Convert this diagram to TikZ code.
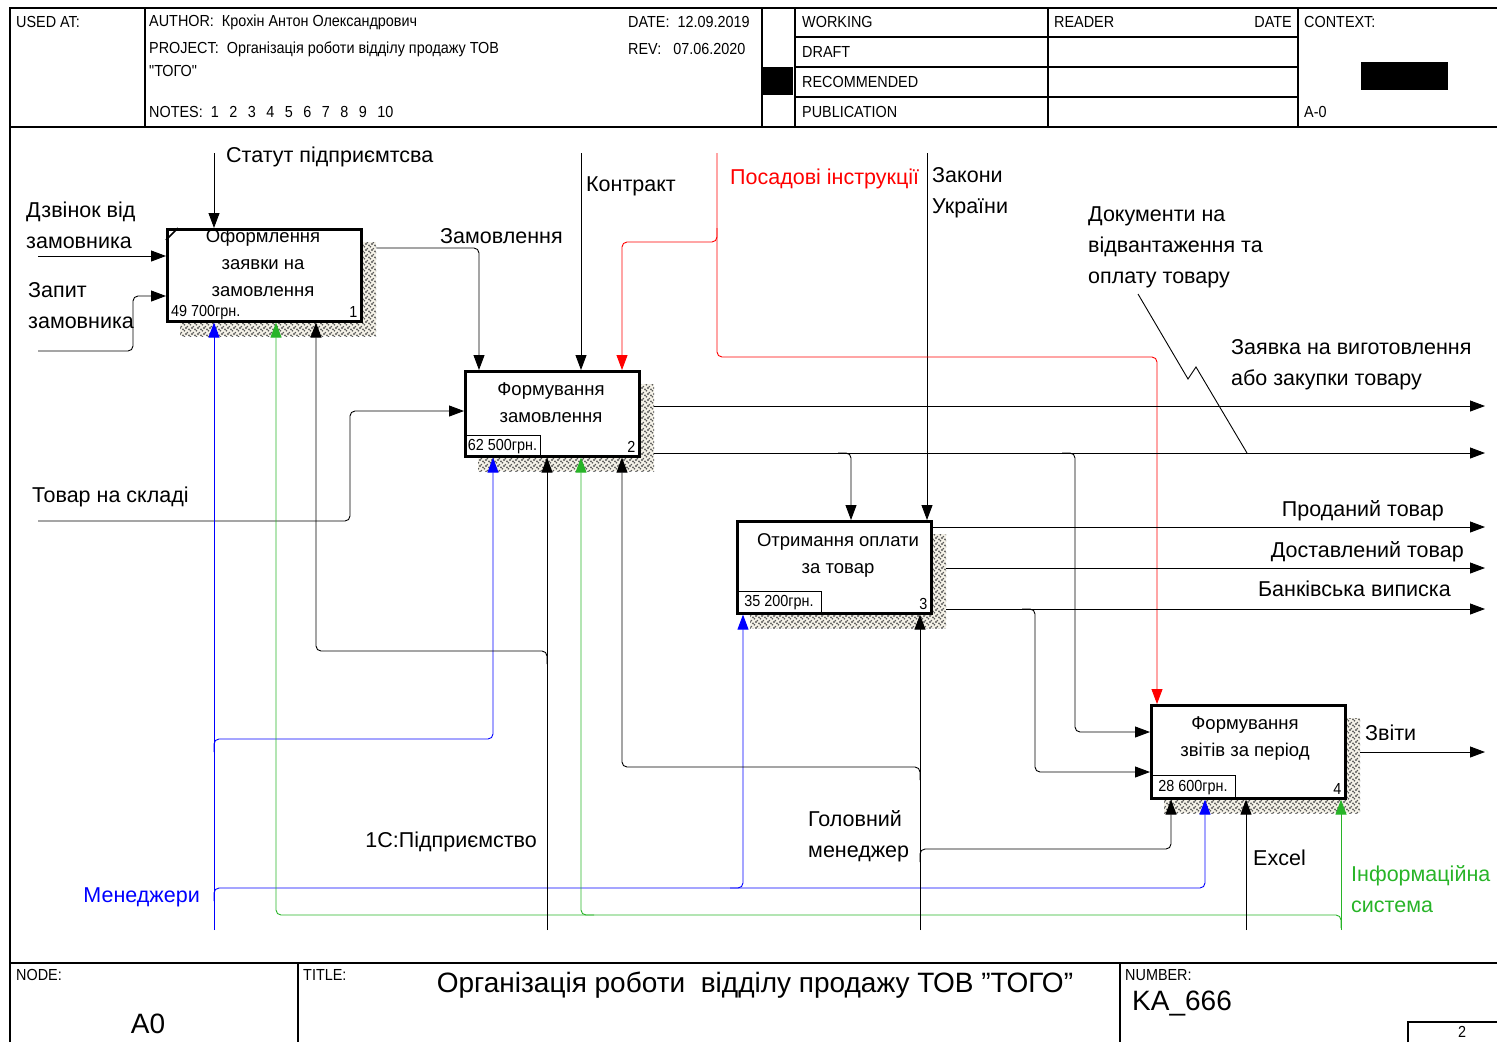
\documentclass[tikz,border=0pt]{standalone}
\usepackage{fontspec}
\setmainfont{Liberation Sans}
\newfontfamily\narrowfont[FakeStretch=0.9]{Liberation Sans}
\usetikzlibrary{arrows.meta, patterns, positioning, calc}
\definecolor{mgrblue}{RGB}{0,0,255}
\definecolor{sysgreen}{RGB}{40,180,40}
\definecolor{instrred}{RGB}{255,0,0}
\definecolor{shadowbg}{RGB}{245,242,232}
\pgfdeclarepatternformonly{shadowdots}{\pgfqpoint{-2pt}{-2pt}}{\pgfqpoint{8pt}{8pt}}{\pgfqpoint{6pt}{6pt}}{%
	\pgfpathcircle{\pgfqpoint{0pt}{0pt}}{1.1pt}%
	\pgfpathcircle{\pgfqpoint{1.4pt}{1.4pt}}{0.9pt}%
	\pgfpathcircle{\pgfqpoint{3pt}{4.6pt}}{1pt}%
	\pgfpathcircle{\pgfqpoint{4.4pt}{3.2pt}}{0.9pt}%
	\pgfusepath{fill}}

\begin{document}
\begin{tikzpicture}[
			x=1pt, y=-1pt,
			box/.style={
				draw,
				line width=2.6pt,
				fill=white,
				anchor=north west,
				inner sep=0pt
			},
			shadowbox/.style={
				preaction={fill=shadowbg},
				pattern=shadowdots,
				pattern color=black!65,
				anchor=north west,
				inner sep=0pt
			},
			flow/.style={
				-{Triangle[length=15pt,width=11pt]},
				line width=0.9pt,
				rounded corners=5pt
			},
			lbl/.style={
				font=\fontsize{21.5}{31}\selectfont,
				inner sep=0pt,
				align=left,
				anchor=west
			},
			boxtxt/.style={
				font=\fontsize{18.5}{27}\selectfont,
				inner sep=0pt,
				align=center
			},
			costtxt/.style={
				font=\narrowfont\fontsize{16}{18}\selectfont,
				inner sep=2pt,
				anchor=south west
			},
			costbox/.style={
				costtxt,
				draw,
				line width=0.8pt
			},
			hdr/.style={
				font=\narrowfont\fontsize{16}{18}\selectfont,
				inner sep=0pt,
				anchor=west
			},
			frame/.style={line width=1.2pt}
			]
			\useasboundingbox (0,0) rectangle (1497,1042);
			
			% Frame and header
			\draw[frame] (10,1042) -- (10,8) -- (1497,8);
			\draw[frame] (10,127) -- (1497,127);
			\draw[frame] (145,8) -- (145,127);
			\draw[frame] (762,8) -- (762,127);
			\draw[frame] (795,8) -- (795,127);
			\draw[frame] (1048,8) -- (1048,127);
			\draw[frame] (1298,8) -- (1298,127);
			\foreach \y in {37,67,97}
				\draw[frame] (795,\y) -- (1298,\y);
			\fill (762,67) rectangle (793,95);
			\fill (1361,62) rectangle (1448,90);
			
			\node[hdr] (hused) at (16,22) {USED AT:};
			\node[hdr] (hauth) at (149,22) {AUTHOR:\ \ Крохін Антон Олександрович};
			\node[hdr] (hproj) at (149,49) {PROJECT:\ \ Організація роботи відділу продажу ТОВ};
			\node[hdr] (hproj2) at (149,71) {"ТОГО"};
			\node[hdr] (hnotes) at (149,112) {NOTES:\ \ 1\hspace{10.5pt}2\hspace{10.5pt}3\hspace{10.5pt}4\hspace{10.5pt}5\hspace{10.5pt}6\hspace{10.5pt}7\hspace{10.5pt}8\hspace{10.5pt}9\hspace{10.5pt}10};
			\node[hdr] (hdate) at (628,22) {DATE:\ \ 12.09.2019};
			\node[hdr] (hrev) at (628,49) {REV:\ \ \ 07.06.2020};
			\node[hdr] (hwork) at (802,22) {WORKING};
			\node[hdr] (hdraft) at (802,52) {DRAFT};
			\node[hdr] (hrec) at (802,82) {RECOMMENDED};
			\node[hdr] (hpub) at (802,112) {PUBLICATION};
			\node[hdr] (hread) at (1054,22) {READER};
			\node[hdr, anchor=east] (hrdate) at (1292,22) {DATE};
			\node[hdr] (hctx) at (1304,22) {CONTEXT:};
			\node[hdr] (ha0) at (1304,112) {A-0};
			
			% Footer
			\draw[frame] (10,963) -- (1497,963);
			\draw[frame] (298,963) -- (298,1042);
			\draw[frame] (1120,963) -- (1120,1042);
			\draw[frame] (1408,1042) -- (1408,1022) -- (1497,1022);
			\node[hdr] (fnode) at (16,975) {NODE:};
			\node[font=\fontsize{28}{32}\selectfont, inner sep=0pt] (fa0) at (148,1024) {A0};
			\node[hdr] (ftitle) at (303,975) {TITLE:};
			\node[font=\fontsize{28}{32}\selectfont, inner sep=0pt] (ftxt) at (755,985) {Організація роботи\ \ відділу продажу ТОВ "ТОГО"};
			\node[hdr] (fnum) at (1125,975) {NUMBER:};
			\node[font=\fontsize{28}{32}\selectfont, inner sep=0pt, anchor=west] (fka) at (1132,1003) {KA\_666};
			\node[hdr, anchor=center] (fpage) at (1462,1032) {2};
			
			% Shadows
			\node[shadowbox, minimum width=196pt, minimum height=94pt] (s1) at (180,242) {};
			\node[shadowbox, minimum width=176pt, minimum height=87pt] (s2) at (478,384) {};
			\node[shadowbox, minimum width=196pt, minimum height=94pt] (s3) at (750,534) {};
			\node[shadowbox, minimum width=196pt, minimum height=95pt] (s4) at (1164,718) {};
			
			% Activities
			\node[box, minimum width=194pt, minimum height=92pt] (b1) at (166,228) {};
			\node[box, minimum width=174pt, minimum height=85pt] (b2) at (464,370) {};
			\node[box, minimum width=194pt, minimum height=92pt] (b3) at (736,520) {};
			\node[box, minimum width=194pt, minimum height=93pt] (b4) at (1150,704) {};
			\draw[line width=1.5pt] ($(b1.north west)+(0,12)$) -- ($(b1.north west)+(12,0)$);
			
			\node[boxtxt] (t1) at (263,263) {Оформлення\\заявки на\\замовлення};
			\node[boxtxt] (t2) at (551,403) {Формування\\замовлення};
			\node[boxtxt] (t3) at (838,555) {Отримання оплати\\за товар};
			\node[boxtxt] (t4) at (1245,738) {Формування\\звітів за період};
			
			\node[costtxt] (c1) at ($(b1.south west)+(3,-1)$) {49 700грн.};
			\node[costbox, minimum width=76pt, minimum height=22pt] (c2) at (b2.south west) {62 500грн.};
			\node[costbox, minimum width=85pt, minimum height=23pt] (c3) at (b3.south west) {35 200грн.};
			\node[costbox, minimum width=85pt, minimum height=24pt] (c4) at (b4.south west) {28 600грн.};
			\node[costtxt, anchor=south east] (n1) at ($(b1.south east)+(-3,-3)$) {1};
			\node[costtxt, anchor=south east] (n2) at ($(b2.south east)+(-3,-3)$) {2};
			\node[costtxt, anchor=south east] (n3) at ($(b3.south east)+(-3,-3)$) {3};
			\node[costtxt, anchor=south east] (n4) at ($(b4.south east)+(-3,-3)$) {4};
			
			% Free ends
			\coordinate (in1) at (38,256);
			\coordinate (in2) at (38,351);
			\coordinate (in3) at (38,521);
			\coordinate (ctl1) at (214,153);
			\coordinate (ctl2) at (581,153);
			\coordinate (ctl3) at (717,153);
			\coordinate (ctl4) at (927,153);
			\coordinate (mech1) at (214,930);
			\coordinate (mech2) at (1341,930);
			\coordinate (mech3) at (547,930);
			\coordinate (mech4) at (920,930);
			\coordinate (mech5) at (1246,930);
			\coordinate (out1) at (1485,406);
			\coordinate (out2) at (1485,453);
			\coordinate (out3) at (1485,527);
			\coordinate (out4) at (1485,568);
			\coordinate (out5) at (1485,609);
			\coordinate (out6) at (1485,752);
			
			% Inputs
			\draw[flow] (in1) -- (in1 -| b1.west);
			\draw[flow] (in2) -- (133,351) -- (133,296) -- (b1.west |- 0,296);
			\draw[flow] (in3) -- (350,521) -- (350,411) -- (b2.west |- 0,411);
			
			% Controls
			\draw[flow] (ctl1) -- (ctl1 |- b1.north);
			\draw[flow] (ctl2) -- (ctl2 |- b2.north);
			\draw[flow] (ctl4) -- (ctl4 |- b3.north);
			\draw[flow, instrred] (ctl3) -- (717,357) -- (1157,357) -- (1157,0 |- b4.north);
			\draw[flow, instrred] (717,228) -- (717,242) -- (622,242) -- (622,0 |- b2.north);
			
			% Outputs
			\draw[flow] (s1.east |- 0,248) -- (479,248) -- (479,0 |- b2.north);
			\draw[flow] (s2.east |- 0,406) -- (out1);
			\draw[flow] (s2.east |- 0,453) -- (out2);
			\draw[flow] (838,453) -- (851,453) -- (851,0 |- b3.north);
			\draw[flow] (1062,453) -- (1075,453) -- (1075,732) -- (b4.west |- 0,732);
			\draw[flow] (b3.east |- 0,527) -- (out3);
			\draw[flow] (s3.east |- 0,568) -- (out4);
			\draw[flow] (s3.east |- 0,609) -- (out5);
			\draw[flow] (1022,609) -- (1035,609) -- (1035,772) -- (b4.west |- 0,772);
			\draw[flow] (s4.east |- 0,752) -- (out6);
			\draw[line width=0.9pt] (1138,294) -- (1188,379) -- (1196,367) -- (1247,453);
			
			% Mechanisms
			\draw[flow, mgrblue] (mech1) -- (mech1 |- b1.south);
			\draw[flow, mgrblue] (214,752) -- (214,739) -- (493,739) -- (493,0 |- b2.south);
			\draw[flow, mgrblue] (214,901) -- (214,888) -- (1205,888) -- (1205,0 |- b4.south);
			\draw[flow, mgrblue] (730,888) -- (743,888) -- (743,0 |- b3.south);
			\draw[flow, sysgreen] (mech2) -- (mech2 |- b4.south);
			\draw[flow, sysgreen] (1341,928) -- (1341,915) -- (276,915) -- (276,0 |- b1.south);
			\draw[flow, sysgreen] (594,915) -- (581,915) -- (581,0 |- b2.south);
			\draw[flow] (mech3) -- (mech3 |- b2.south);
			\draw[flow] (547,664) -- (547,651) -- (316,651) -- (316,0 |- b1.south);
			\draw[flow] (mech4) -- (mech4 |- b3.south);
			\draw[flow] (920,780) -- (920,767) -- (622,767) -- (622,0 |- b2.south);
			\draw[flow] (920,862) -- (920,849) -- (1171,849) -- (1171,0 |- b4.south);
			\draw[flow] (mech5) -- (mech5 |- b4.south);
			
			% Labels
			\node[lbl] (lzv) at (26,225) {Дзвінок від\\замовника};
			\node[lbl] (lzap) at (28,306) {Запит\\замовника};
			\node[lbl] (ltov) at (32,497) {Товар на складі};
			\node[lbl] (lstat) at (226,157) {Статут підприємтсва};
			\node[lbl] (lzam) at (440,236) {Замовлення};
			\node[lbl] (lkon) at (586,186) {Контракт};
			\node[lbl, instrred] (lpos) at (730,179) {Посадові інструкції};
			\node[lbl] (lzak) at (932,193) {Закони\\України};
			\node[lbl] (ldoc) at (1088,247) {Документи на\\відвантаження та\\оплату товару};
			\node[lbl] (lzay) at (1231,365) {Заявка на виготовлення\\або закупки товару};
			\node[lbl, anchor=east] (lprod) at (1444,511) {Проданий товар};
			\node[lbl, anchor=east] (ldost) at (1464,552) {Доставлений товар};
			\node[lbl, anchor=east] (lbank) at (1451,589) {Банківська виписка};
			\node[lbl] (lzvit) at (1365,733) {Звіти};
			\node[lbl, mgrblue, anchor=east] (lmen) at (200,897) {Менеджери};
			\node[lbl, anchor=east] (l1c) at (537,842) {1С:Підприємство};
			\node[lbl] (lgm) at (808,836) {Головний\\менеджер};
			\node[lbl] (lexc) at (1253,858) {Excel};
			\node[lbl, sysgreen] (linf) at (1351,889) {Інформаційна\\система};
		\end{tikzpicture}
\end{document}
